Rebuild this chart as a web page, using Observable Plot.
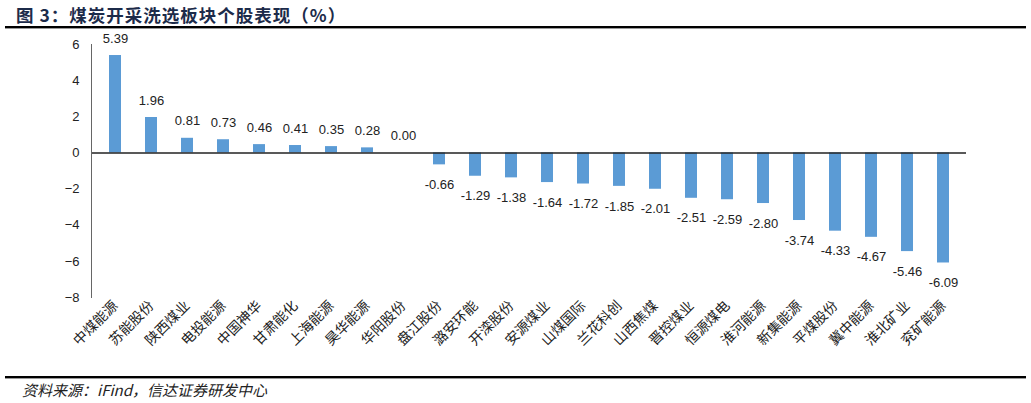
<!DOCTYPE html>
<html>
<head>
<meta charset="utf-8">
<script src="https://cdn.jsdelivr.net/npm/d3@7"></script>
<script src="https://cdn.jsdelivr.net/npm/@observablehq/plot@0.6"></script>
<style>
  body { margin: 0; width: 1031px; height: 403px; position: relative; background: #fff; overflow: hidden; font-family: "Noto Sans CJK SC", sans-serif; }
  #title { position: absolute; left: 16px; top: 2px; font-size: 17.5px; font-weight: bold; color: #1c2b4a; letter-spacing: 1px; }
  .hr { position: absolute; left: 5px; width: 1021px; height: 2px; background: #000; border-bottom: 1px solid #999; }
  #chart { position: absolute; left: 0; top: 30px; }
  #footer { position: absolute; left: 22px; top: 379px; font-size: 15px; font-style: italic; color: #222; }
</style>
</head>
<body>
<div id="title">图 3：煤炭开采洗选板块个股表现（%）</div>
<div class="hr" style="top:26px"></div>
<div id="chart"></div>
<div class="hr" style="top:376px"></div>
<div id="footer">资料来源：iFind，信达证券研发中心</div>
<script>
const names = ["中煤能源","苏能股份","陕西煤业","电投能源","中国神华","甘肃能化","上海能源","昊华能源","华阳股份","盘江股份","潞安环能","开滦股份","安源煤业","山煤国际","兰花科创","山西焦煤","晋控煤业","恒源煤电","淮河能源","新集能源","平煤股份","冀中能源","淮北矿业","兖矿能源"];
const values = [5.39,1.96,0.81,0.73,0.46,0.41,0.35,0.28,0.00,-0.66,-1.29,-1.38,-1.64,-1.72,-1.85,-2.01,-2.51,-2.59,-2.80,-3.74,-4.33,-4.67,-5.46,-6.09];
const yTicks = [-8,-6,-4,-2,0,2,4,6];

const data = names.map((n, i) => ({name: n, value: values[i]}));

const chart = Plot.plot({
  width: 1031,
  height: 345,
  marginTop: 14,
  marginBottom: 78,
  marginLeft: 91,
  marginRight: 65,
  style: {fontFamily: "Liberation Sans, Arial, sans-serif", fontSize: "13px", color: "#222"},
  x: {domain: names, paddingInner: 0.68, paddingOuter: 0.34, label: null},
  y: {domain: [-8, 6], label: null},
  marks: [
    Plot.barY(data, {x: "name", y: "value", fill: "#5B9BD5"}),
    Plot.ruleY([0], {stroke: "#222", strokeWidth: 1.5}),
    Plot.frame({anchor: "left", stroke: "#666"}),
    Plot.axisY({ticks: yTicks, tickSize: 0, tickPadding: 12, fontSize: 13, label: null}),
    Plot.axisX({tickSize: 0, tickRotate: -45, tickPadding: 6, fontSize: 14, fontFamily: "Noto Sans CJK SC", label: null}),
    Plot.text(data.filter(d => d.value >= 0), {x: "name", y: "value", text: d => d.value.toFixed(2), dy: -17, fontSize: 13}),
    Plot.text(data.filter(d => d.value < 0), {x: "name", y: "value", text: d => d.value.toFixed(2), dy: 20, fontSize: 13})
  ]
});
document.getElementById("chart").appendChild(chart);
</script>
</body>
</html>
